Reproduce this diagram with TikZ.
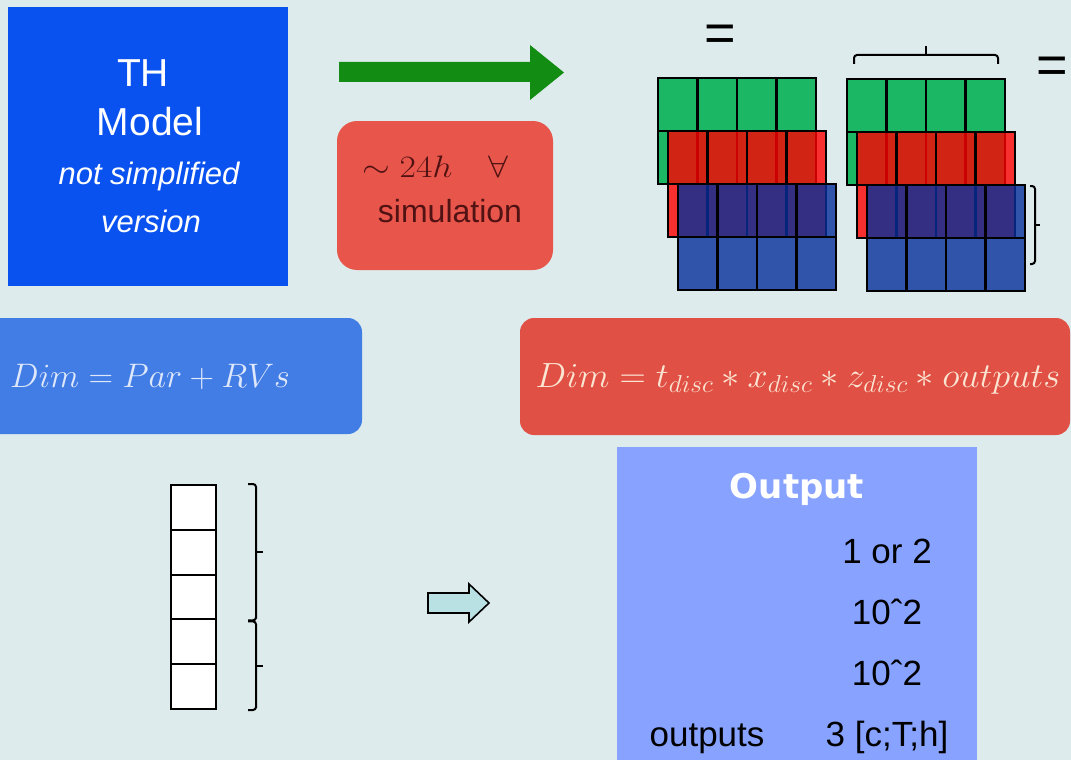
\documentclass[tikz,border=0pt]{standalone}
\usepackage{fix-cm}
\usepackage{fontspec}
\usepackage{graphicx}
\setmainfont{Liberation Sans}
\newfontfamily\dejavu{DejaVu Sans}
\usetikzlibrary{calc}
\definecolor{bg}{RGB}{221,235,236}
\definecolor{thblue}{RGB}{10,82,240}
\definecolor{simred}{RGB}{232,85,75}
\definecolor{arrgreen}{RGB}{18,140,18}
\definecolor{dimblue}{RGB}{66,125,230}
\definecolor{dimred}{RGB}{225,80,68}
\definecolor{outblue}{RGB}{135,163,255}
\definecolor{gridgreen}{RGB}{27,183,100}
\definecolor{gridred}{RGB}{255,0,0}
\definecolor{gridblue}{RGB}{5,47,154}
\definecolor{hollow}{RGB}{185,225,228}
\definecolor{simtxt}{RGB}{80,18,18}
\definecolor{ftxtb}{RGB}{222,232,250}
\definecolor{ftxtr}{RGB}{250,228,210}
\newcommand\setfs[1]{\fontsize{#1}{#1}\selectfont}
\newcommand\gridlayer[3]{%
  \fill[#3] (#1,#2) rectangle ++(158,106);
  \foreach \i in {1,2,3} \draw[gridline] (#1+\i*39.5,#2) -- ++(0,106);
  \draw[gridline] (#1,#2+53) -- ++(158,0);
  \draw[gridline] (#1,#2) rectangle ++(158,106);
}
\begin{document}
\begin{tikzpicture}[x=1pt,y=-1pt,
  txt/.style={inner sep=0pt, anchor=base},
  gridline/.style={line width=2.3pt, black},
  bracestyle/.style={line width=2pt, black, rounded corners=3pt},
  cell/.style={draw=black, line width=2pt, fill=white, minimum width=45pt, minimum height=44.8pt, inner sep=0pt}]
\useasboundingbox (0,0) rectangle (1071,760);
\fill[bg] (0,0) rectangle (1071,760);

% TH model box
\node[fill=thblue, minimum width=280pt, minimum height=279pt, inner sep=0pt] (th) at (148,146.5) {};
\node[txt, text=white] (th1) at (143,86) {\setfs{39}TH};
\node[txt, text=white] (th2) at (150,135) {\setfs{39}Model};
\node[txt, text=white] (th3) at (149,184) {\setfs{31}\itshape not simplified};
\node[txt, text=white] (th4) at (151,232) {\setfs{31}\itshape version};

% green block arrow
\fill[arrgreen] (339,62) -- (530,62) -- (530,45) -- (564,72.5) -- (530,100) -- (530,82) -- (339,82) -- cycle;

% simulation box
\node[fill=simred, rounded corners=20pt, minimum width=216pt, minimum height=149pt, inner sep=0pt] (sim) at (445,195.5) {};
\node[txt, text=simtxt] (s1) at (435,177) {\setfs{31}\scalebox{1.15}[1]{$\sim 24h \quad \forall$}};
\node[txt, text=simtxt] (s2) at (450,222) {\setfs{32}simulation};

% equal signs
\node[inner sep=0pt] (eq1) at (720,38.5) {\setfs{54}=};
\node[inner sep=0pt] (eq2) at (1052,70.5) {\setfs{54}=};

% grid stacks
\gridlayer{658}{78}{gridgreen}
\gridlayer{668}{131}{gridred, fill opacity=0.8}
\gridlayer{678}{184}{gridblue, fill opacity=0.8}
\gridlayer{847}{79}{gridgreen}
\gridlayer{857}{132}{gridred, fill opacity=0.8}
\gridlayer{867}{185}{gridblue, fill opacity=0.8}

% braces around right stack
\coordinate (tb1) at (854,64);
\coordinate (tb2) at (998,64);
\coordinate (tbm) at (926,55);
\draw[bracestyle] (tb1) -- (854,55) -- (998,55) -- (tb2);
\draw[line width=2pt] (tbm) -- ++(0,-9);
\coordinate (rb1) at (1030,186);
\coordinate (rb2) at (1030,264);
\coordinate (rbm) at (1035,225);
\draw[bracestyle] (rb1) -- (1035,186) -- (1035,264) -- (rb2);
\draw[line width=2pt] (rbm) -- ++(5,0);

% dimension boxes
\node[fill=dimblue, rounded corners=14pt, minimum width=392pt, minimum height=116pt, inner sep=0pt] (dimb) at (166,376) {};
\node[txt, text=ftxtb] (f1) at (150,387) {\setfs{34}$Dim = Par + RVs$};
\node[fill=dimred, rounded corners=14pt, minimum width=550pt, minimum height=117pt, inner sep=0pt] (dimr) at (795,376.5) {};
\node[txt, text=ftxtr] (f2) at (798,387) {\setfs{35}\scalebox{1.04}[1]{$Dim = t_{disc} * x_{disc} * z_{disc} * outputs$}};

% column of cells
\foreach \k in {0,...,4} \node[cell] (c\k) at (193.5,507.4+\k*44.8) {};
\coordinate (b1a) at ([xshift=31pt]c0.north east);
\coordinate (b1b) at ([xshift=31pt]c2.south east);
\coordinate (b2a) at ([xshift=31pt,yshift=-3pt]c3.north east);
\coordinate (b2b) at ([xshift=31pt]c4.south east);
\draw[bracestyle] (b1a) -- ++(8,0) |- ([xshift=8pt]b1b) -- (b1b);
\draw[line width=2pt] ($(b1a)!0.5!(b1b)+(8,0)$) -- ++(7,0);
\draw[bracestyle] (b2a) -- ++(8,0) |- ([xshift=8pt]b2b) -- (b2b);
\draw[line width=2pt] ($(b2a)!0.5!(b2b)+(8,0)$) -- ++(7,0);

% hollow arrow
\draw[fill=hollow, line width=1.6pt, line join=miter] (428,593) -- (469,593) -- (469,584) -- (489,603) -- (469,622) -- (469,613) -- (428,613) -- cycle;

% output box
\fill[outblue] (617,447) rectangle (977,770);
\node[txt, text=white] (o0) at (797,498) {\setfs{34}\dejavu\bfseries Output};
\node[txt] (o1) at (887,563) {\setfs{35}1 or 2};
\node[txt] (o2) at (887,624) {\setfs{35}10ˆ2};
\node[txt] (o3) at (887,685) {\setfs{35}10ˆ2};
\node[txt] (o4) at (707,746) {\setfs{35}outputs};
\node[txt] (o5) at (887,746) {\setfs{35}3 [c;T;h]};
\end{tikzpicture}
\end{document}
